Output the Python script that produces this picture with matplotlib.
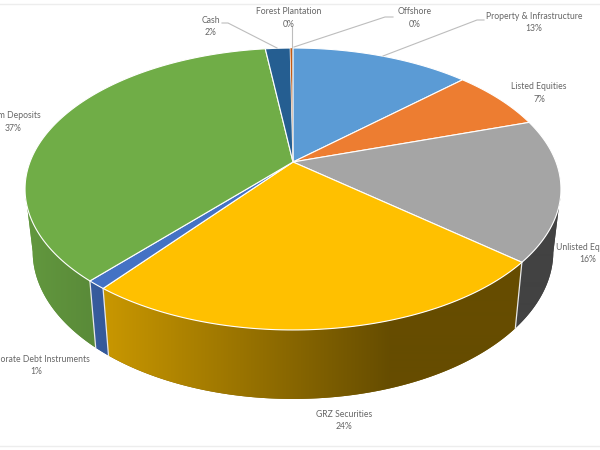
import numpy as np
import matplotlib
matplotlib.use("Agg")
import matplotlib.pyplot as plt
from matplotlib.patches import Polygon

categories = ["Property & Infrastructure", "Listed Equities", "Unlisted Equities", "GRZ Securities",
              "Corporate Debt Instruments", "Term Deposits", "Cash", "Forest Plantation", "Offshore"]
values = [13.0, 7.0, 16.2, 24.3, 1.0, 36.5, 1.8, 0.15, 0.05]
pct_labels = ["13%", "7%", "16%", "24%", "1%", "37%", "2%", "0%", "0%"]
colors = ["#5B9BD5", "#ED7D31", "#A5A5A5", "#FFC000", "#4472C4", "#70AD47", "#255E91", "#C55A11", "#7B7B7B"]
label_xy = [(534, 22.5), (539, 93), (588, 253.5), (344, 420.5), (36, 365.5), (13, 122), (211, 26.5), (289, 18), (415, 18)]

plt.rcParams["font.family"] = ["Lato", "DejaVu Sans"]
fig = plt.figure(figsize=(6, 4.5), dpi=100)
ax = fig.add_axes([0, 0, 1, 1])
ax.set_xlim(0, 600)
ax.set_ylim(450, 0)
ax.axis("off")

P = 0.1915
CX = 293.0


def top(th):
    u, v = np.sin(th), np.cos(th)
    d = 1 + P * v
    return CX + 263.0 * u / d, 162.0 - 135.8 * v / d


def bottom(th):
    u, v = np.sin(th), np.cos(th)
    d = 1 + P * v
    return CX + 255.5 * u / d, 223.3 - 142.0 * v / d


def shade(x):
    return np.interp(x, [25, 103, 390, 600], [0.88, 0.79, 0.40, 0.40])


fracs = np.array(values) / sum(values)
edges = np.concatenate([[0], np.cumsum(fracs)]) * 2 * np.pi
rgb = [np.array(matplotlib.colors.to_rgb(c)) for c in colors]
px = np.arange(600) + 0.5

# side wall: a horizontal gradient clipped to each slice's visible outer wall
for i in range(len(values)):
    a, b = edges[i], edges[i + 1]
    ts = np.linspace(a, b, max(3, int(np.degrees(b - a) * 2) + 2))
    ts = ts[np.cos(ts) < -P]
    if len(ts) < 2:
        continue
    xt, yt = top(ts)
    xb, yb = bottom(ts)
    poly = Polygon(np.c_[np.r_[xt, xb[::-1]], np.r_[yt, yb[::-1]]], closed=True,
                   transform=ax.transData, facecolor=rgb[i] * shade(xt.mean()), edgecolor="none", zorder=2)
    ax.add_patch(poly)
    grad = np.clip(rgb[i][None, None, :] * shade(px)[None, :, None], 0, 1)
    im = ax.imshow(grad, extent=(0, 600, 450, 0), aspect="auto", zorder=2.1, interpolation="bilinear")
    im.set_clip_path(poly)
ax.set_xlim(0, 600)
ax.set_ylim(450, 0)

# separators on the side wall
for e in edges[3:6]:
    x0, y0 = top(e)
    x1, y1 = bottom(e)
    ax.plot([x0, x1], [y0, y1], color="#E8E8E8", lw=0.9, zorder=3)

# top face
for i in range(len(values)):
    ts = np.linspace(edges[i], edges[i + 1], max(2, int(np.degrees(edges[i + 1] - edges[i])) + 2))
    x, y = top(ts)
    ax.fill(np.r_[CX, x], np.r_[162.0, y], facecolor=colors[i], edgecolor="white",
            lw=0.8 if fracs[i] > 0.005 else 0.2, zorder=4, joinstyle="round")

# labels
for name, pct, (x, y) in zip(categories, pct_labels, label_xy):
    ax.text(x, y, f"{name}\n{pct}", ha="center", va="center", fontsize=6.2, color="#666666",
            linespacing=1.55, zorder=6, clip_on=False)

# leader lines
leaders = [([222, 228, 277], [23, 23, 48]),
           ([292, 292], [27, 48]),
           ([393, 385, 294], [17, 17, 47]),
           ([484, 477, 383], [20, 20, 56])]
for lx, ly in leaders:
    ax.plot(lx, ly, color="#BDBDBD", lw=0.8, zorder=5)

# faint frame lines of the source picture
ax.plot([0, 600], [3.5, 3.5], color="#EDEDED", lw=1, zorder=1)
ax.plot([0, 600], [445.5, 445.5], color="#EDEDED", lw=1, zorder=1)

fig.savefig("out.png", dpi=100)
